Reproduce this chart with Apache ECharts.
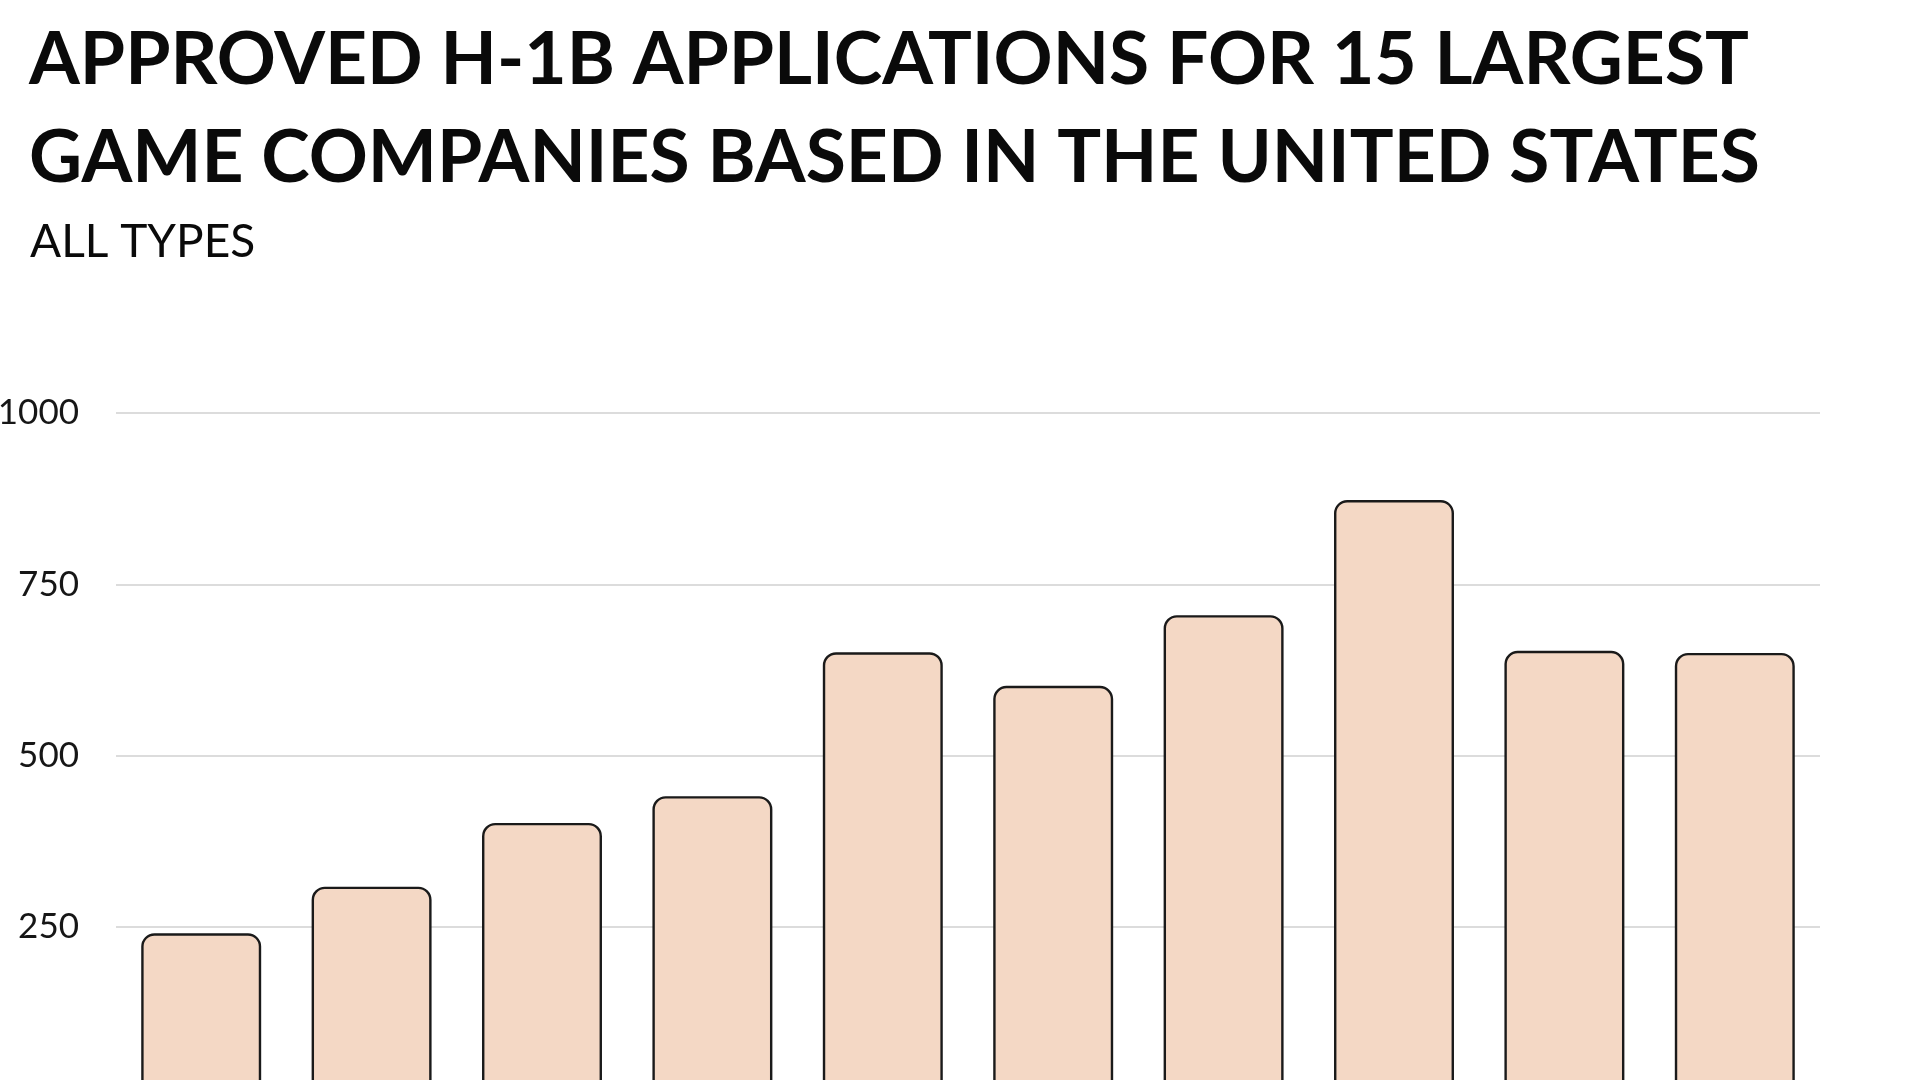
<!DOCTYPE html>
<html>
<head>
<meta charset="utf-8">
<title>Approved H-1B applications</title>
<script src="https://cdn.jsdelivr.net/npm/echarts@6/dist/echarts.min.js"></script>
<style>
  html, body { margin: 0; padding: 0; background: #fff; overflow: hidden; }
  #main { width: 1920px; height: 1080px; }
</style>
</head>
<body>
<div id="main"></div>
<script>
var years = ['2010', '2011', '2012', '2013', '2014', '2015', '2016', '2017', '2018', '2019'];
var approved = [241, 309, 402, 441, 651, 602, 705, 873, 653, 650];
var yTicks = [0, 250, 500, 750, 1000];

var chartDom = document.getElementById('main');
var myChart = echarts.init(chartDom);
var option;

var fontFamily = 'Lato, "Noto Sans", sans-serif';

option = {
    backgroundColor: '#ffffff',
    animation: false,
    title: [
        {
            text: 'APPROVED H-1B APPLICATIONS FOR 15 LARGEST\nGAME COMPANIES BASED IN THE UNITED STATES',
            left: 24,
            top: 6,
            textStyle: {
                fontFamily: fontFamily,
                fontWeight: 700,
                fontSize: 73.2,
                lineHeight: 98,
                color: '#0a0a0a'
            }
        },
        {
            text: 'ALL TYPES',
            left: 25,
            top: 213,
            textStyle: {
                fontFamily: fontFamily,
                fontWeight: 400,
                fontSize: 46,
                lineHeight: 48,
                color: '#0a0a0a'
            }
        }
    ],
    grid: {
        left: 116,
        top: 413,
        width: 1704,
        height: 685.5,
        containLabel: false,
        outerBoundsMode: 'none'
    },
    xAxis: {
        type: 'category',
        data: years,
        axisLine: { show: false },
        axisTick: { show: false },
        axisLabel: { show: false }
    },
    yAxis: {
        type: 'value',
        min: yTicks[0],
        max: yTicks[yTicks.length - 1],
        interval: 250,
        axisLine: { show: false },
        axisTick: { show: false },
        axisLabel: {
            margin: 37,
            fontFamily: fontFamily,
            fontSize: 35,
            color: '#161616',
            formatter: function (value) {
                return String(value);
            }
        },
        splitLine: {
            lineStyle: { color: '#dcdcdc', width: 2 }
        }
    },
    series: [
        {
            name: 'Approved',
            type: 'bar',
            data: approved,
            barCategoryGap: '29.6%',
            itemStyle: {
                color: '#f4d8c5',
                borderColor: '#1a1a1a',
                borderWidth: 2.4,
                borderRadius: [12, 12, 0, 0]
            }
        }
    ]
};

option && myChart.setOption(option);
</script>
</body>
</html>
